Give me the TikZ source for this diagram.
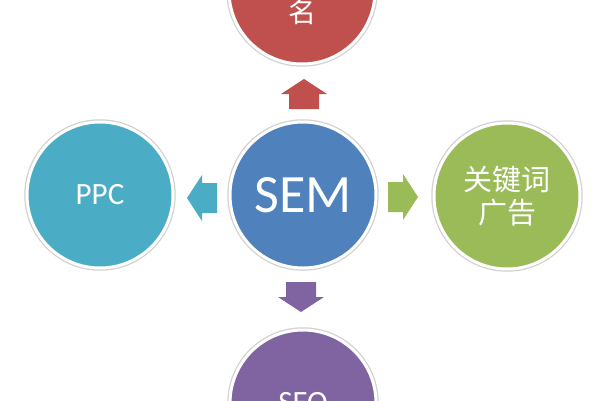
\documentclass[tikz,border=0pt]{standalone}
\usepackage{fontspec}
\setmainfont{Carlito}
\newfontfamily\cjk{Noto Sans CJK SC}
\definecolor{cblue}{HTML}{4F81BD}
\definecolor{cred}{HTML}{C0504D}
\definecolor{cgreen}{HTML}{9BBB59}
\definecolor{cpurple}{HTML}{8064A2}
\definecolor{ccyan}{HTML}{4BACC6}
\tikzset{
  ball/.style={circle, minimum size=146pt, inner sep=0pt, fill=#1, draw=white, line width=3pt,
    preaction={draw=black!18, line width=5.5pt}, text=white},
  blockarrow/.style={fill=#1},
}
\newcommand\myarrow[4]{% name, center, angle, colour
  \begin{scope}[shift={#2}, rotate=#3]
    \coordinate (#1) at (0,0);
    \fill[blockarrow=#4] (-15,-15) -- (0,-15) -- (0,-23) -- (15,0) -- (0,23) -- (0,15) -- (-15,15) -- cycle;
  \end{scope}}
\begin{document}
\begin{tikzpicture}[x=1pt,y=-1pt]
  \useasboundingbox (0,0) rectangle (600,400);
  \clip (0,0) rectangle (600,400);
  \fill[white] (0,0) rectangle (600,400);
  \node[ball=cblue, font=\fontsize{54}{58}\selectfont] (sem) at (303,195) {SEM};
  \node[ball=ccyan, font=\fontsize{31}{35}\selectfont] (ppc) at (100,195) {PPC};
  \node[ball=cgreen, align=center, font=\cjk\fontsize{29}{33}\selectfont] (kw) at (507,196) {关键词\\广告};
  \node[ball=cred] (rank) at (302,-9) {};
  \node[text=white, font=\cjk\fontsize{28}{32}\selectfont] (ranktxt) at (302,12) {名};
  \node[ball=cpurple, font=\fontsize{31}{35}\selectfont] (seo) at (303,403) {SEO};
  \myarrow{aup}{(304,94)}{90}{cred}
  \myarrow{adown}{(301,297)}{-90}{cpurple}
  \myarrow{aleft}{(202,198)}{180}{ccyan}
  \myarrow{aright}{(403,197)}{0}{cgreen}
\end{tikzpicture}
\end{document}
